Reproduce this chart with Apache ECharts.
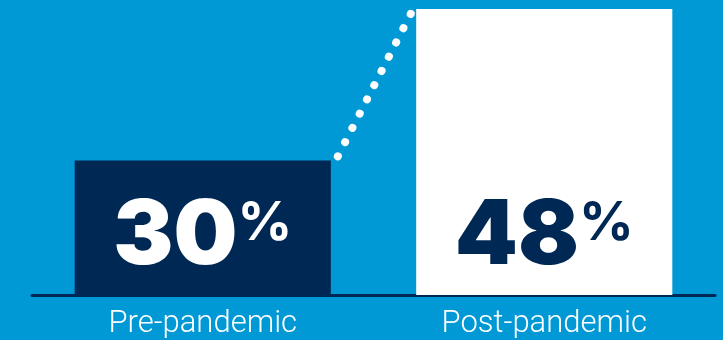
<!DOCTYPE html>
<html>
<head>
<meta charset="utf-8">
<script src="https://cdn.jsdelivr.net/npm/echarts@6/dist/echarts.min.js"></script>
<style>
  html, body { margin: 0; padding: 0; background: #0099d6; }
  #chart { width: 723px; height: 340px; }
</style>
</head>
<body>
<div id="chart"></div>
<script>
// data
var categories = ['Pre-pandemic', 'Post-pandemic'];
var values = [30, 48];
var barColors = ['#002855', '#ffffff'];
var labelColors = ['#ffffff', '#002855'];

var chart = echarts.init(document.getElementById('chart'), null, { renderer: 'canvas' });

var barData = values.map(function (v, i) {
    return {
        value: v,
        itemStyle: { color: barColors[i] },
        label: { color: labelColors[i] }
    };
});

var option = {
    backgroundColor: '#0099d6',
    animation: false,
    grid: { left: 32, right: 8, top: 9, bottom: 44 },
    xAxis: {
        type: 'category',
        data: categories,
        axisLine: { show: true, lineStyle: { color: '#002855', width: 3 } },
        axisTick: { show: false },
        axisLabel: {
            color: '#ffffff',
            fontFamily: 'Roboto',
            fontWeight: 300,
            fontSize: 31,
            margin: 14
        }
    },
    yAxis: {
        type: 'value',
        min: 14,   // bars in the original are not drawn from zero
        max: 48,
        show: false,
        splitLine: { show: false }
    },
    series: [
        {
            type: 'bar',
            data: barData,
            barWidth: '75%',
            z: 1,
            label: {
                show: true,
                position: 'insideBottom',
                distance: 18,
                formatter: function (p) {
                    return '{n|' + p.value + '}{p|%}';
                },
                rich: {
                    n: { fontFamily: 'Inter', fontWeight: 900, fontSize: 90, lineHeight: 80, letterSpacing: -2 },
                    p: { fontFamily: 'Inter', fontWeight: 700, fontSize: 54, lineHeight: 74, verticalAlign: 'top' }
                }
            }
        },
        {
            // dotted connector between the two bar tops
            type: 'custom',
            z: 3,
            data: [values],
            renderItem: function (params, api) {
                var p1 = api.coord([0, api.value(0)]);
                var p2 = api.coord([1, api.value(1)]);
                var half = api.size([1, 0])[0] * 0.75 / 2;
                return {
                    type: 'line',
                    shape: {
                        x1: p1[0] + half + 7, y1: p1[1] - 4,
                        x2: p2[0] - half - 5, y2: p2[1] + 4
                    },
                    style: {
                        stroke: '#ffffff',
                        lineWidth: 8,
                        lineCap: 'round',
                        lineDash: [0.1, 15.9]
                    }
                };
            }
        }
    ]
};

chart.setOption(option);
</script>
</body>
</html>
